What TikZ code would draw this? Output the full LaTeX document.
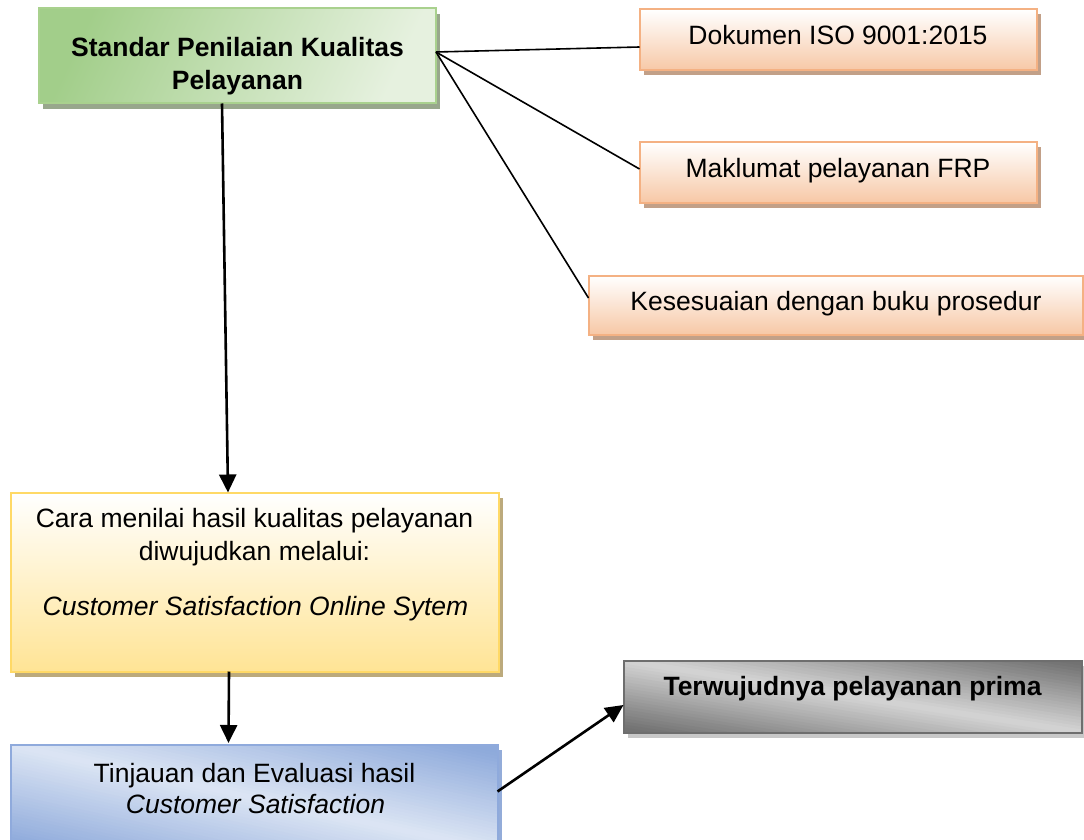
\documentclass[tikz,border=0pt]{standalone}
\usepackage{fontspec}
\setmainfont{Liberation Sans}
\usetikzlibrary{arrows.meta,shadows}
\definecolor{grA}{HTML}{A2CE8A}
\definecolor{grB}{HTML}{E6F1DF}
\definecolor{grBorder}{HTML}{A9D18E}
\definecolor{grShadow}{HTML}{98A78C}
\definecolor{orA}{HTML}{FFFFFF}
\definecolor{orB}{HTML}{F7C8A6}
\definecolor{orBorder}{HTML}{F4B183}
\definecolor{orShadow}{HTML}{C2A088}
\definecolor{yeB}{HTML}{FFE495}
\definecolor{yeBorder}{HTML}{FFD966}
\definecolor{yeShadow}{HTML}{BCAA7C}
\definecolor{blA}{HTML}{8EAADB}
\definecolor{blB}{HTML}{DCE5F4}
\definecolor{blBorder}{HTML}{8FAADC}
\definecolor{blShadow}{HTML}{93ACD9}
\definecolor{gyA}{HTML}{727272}
\definecolor{gyB}{HTML}{D4D4D4}
\definecolor{gyBorder}{HTML}{6E6E6E}
\definecolor{gyShadow}{HTML}{C8C8C8}
\begin{document}
\begin{tikzpicture}[x=1pt,y=-1pt,
  basebox/.style={rectangle, line width=2pt, inner sep=0pt, outer sep=0pt},
  greenbox/.style={basebox, draw=grBorder, left color=grA, right color=grB, shading angle=65,
     drop shadow={shadow xshift=4pt, shadow yshift=-6pt, fill=grShadow, opacity=1}},
  orangebox/.style={basebox, draw=orBorder, top color=orA, bottom color=orB,
     drop shadow={shadow xshift=4pt, shadow yshift=-5pt, fill=orShadow, opacity=1}},
  yellowbox/.style={basebox, draw=yeBorder, top color=white, bottom color=yeB,
     drop shadow={shadow xshift=4pt, shadow yshift=-5pt, fill=yeShadow, opacity=1}},
  bluebox/.style={basebox, draw=blBorder, fill=blB,
     drop shadow={shadow xshift=4pt, shadow yshift=-5pt, fill=blShadow, opacity=1}},
  graybox/.style={basebox, draw=gyBorder, fill=gyB,
     drop shadow={shadow xshift=4pt, shadow yshift=-5pt, fill=gyShadow, opacity=1}},
  blueedge/.style={draw=blBorder, line width=2pt},
  grayedge/.style={draw=gyBorder, line width=2pt},
  txt/.style={anchor=base, inner sep=0pt, font=\fontsize{26.5}{32}\selectfont},
  btxt/.style={txt, font=\fontsize{26.5}{32}\selectfont\bfseries},
  itxt/.style={txt, font=\fontsize{26.5}{32}\selectfont\itshape},
  thin/.style={line width=1.6pt, black},
  arrow/.style={line width=2.6pt, black, -{Triangle[length=18pt,width=17pt]}}
]
\useasboundingbox (0,0) rectangle (1084,840);

% boxes
\node[greenbox, minimum width=397pt, minimum height=95pt] (std) at (237.5,56) {};
\node[orangebox, minimum width=397pt, minimum height=61pt] (dok) at (838,40) {};
\node[orangebox, minimum width=397pt, minimum height=60pt] (mak) at (838,172.5) {};
\node[orangebox, minimum width=494pt, minimum height=59pt] (kes) at (835.5,305) {};
\node[yellowbox, minimum width=488pt, minimum height=179pt] (cara) at (254.5,582) {};
\node[bluebox, minimum width=487pt, minimum height=106pt] (tin) at (254,798) {};
\node[graybox, minimum width=458pt, minimum height=72pt] (ter) at (852.5,696.5) {};

% diagonal shading of the blue box (light along the diagonal, darker towards two corners)
\begin{scope}
  \clip (tin.south west) rectangle (tin.north east);
  \begin{scope}[shift={(tin.center)}, rotate=-12.3]
    \foreach \v [evaluate=\v as \p using {int(min(100,abs(\v+1.5)*100/95))}] in {-150,-147,...,150}
      \fill[blA!\p!blB] (-400,\v) rectangle (400,\v+3.6);
  \end{scope}
\end{scope}
\draw[blueedge] (tin.south west) rectangle (tin.north east);

% diagonal shading of the gray box
\begin{scope}
  \clip (ter.south west) rectangle (ter.north east);
  \begin{scope}[shift={(ter.center)}, rotate=-8.9]
    \foreach \v [evaluate=\v as \p using {int(min(100,abs(\v+1.5)*100/66))}] in {-120,-117,...,120}
      \fill[gyA!\p!gyB] (-400,\v) rectangle (400,\v+3.6);
  \end{scope}
\end{scope}
\draw[grayedge] (ter.south west) rectangle (ter.north east);

% texts
\node[btxt] (std1) at (237.5,57) {Standar Penilaian Kualitas};
\node[btxt] (std2) at (237.5,90) {Pelayanan};
\node[txt] (dokt) at (838,45) {Dokumen ISO 9001:2015};
\node[txt] (makt) at (838,177) {Maklumat pelayanan FRP};
\node[txt] (kest) at (836,310) {Kesesuaian dengan buku prosedur};
\node[txt] (cara1) at (254.5,527) {Cara menilai hasil kualitas pelayanan};
\node[txt] (cara2) at (254.5,560) {diwujudkan melalui:};
\node[itxt] (cara3) at (255.5,615) {Customer Satisfaction Online Sytem};
\node[txt] (tin1) at (254.5,782) {Tinjauan dan Evaluasi hasil};
\node[itxt] (tin2) at (255.5,813) {Customer Satisfaction};
\node[btxt] (tert) at (852.5,695) {Terwujudnya pelayanan prima};

% connectors
\draw[thin] ([yshift=4pt]std.east) -- ([yshift=-7pt]dok.west);
\draw[thin] ([yshift=4pt]std.east) -- ([yshift=3.5pt]mak.west);
\draw[thin] ([yshift=4pt]std.east) -- ([yshift=7pt]kes.west);
\draw[arrow] ([xshift=-15.5pt]std.south) -- ([xshift=-26.5pt]cara.north);
\draw[arrow] ([xshift=-25.5pt]cara.south) -- ([xshift=-25.5pt,yshift=2pt]tin.north);
\draw[arrow] ([yshift=6.5pt]tin.east) -- ([yshift=-8.5pt]ter.west);
\end{tikzpicture}
\end{document}
